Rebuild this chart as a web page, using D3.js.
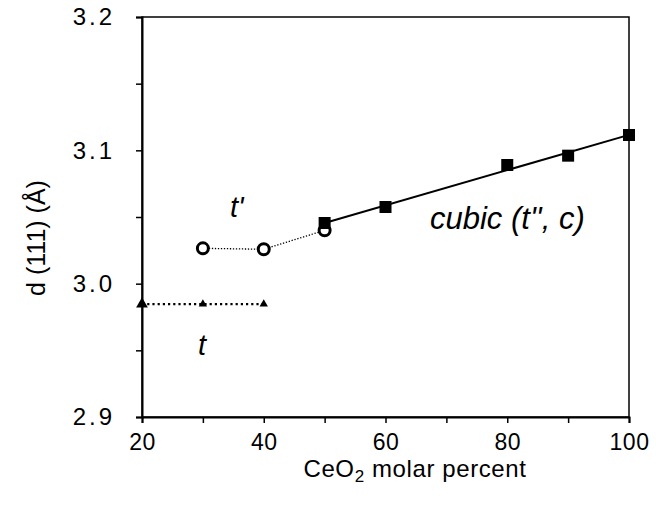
<!DOCTYPE html>
<html><head><meta charset="utf-8">
<script src="https://cdn.jsdelivr.net/npm/d3@7"></script>
<style>body{margin:0;background:#fff}svg{display:block}</style>
</head><body>
<script>
// Data
const cubicX = [50, 60, 80, 90, 100];
const cubicY = [3.0455, 3.0575, 3.089, 3.096, 3.1115];
const tPrimeX = [30, 40, 50];
const tPrimeY = [3.0265, 3.0258, 3.040];
const tX = [20, 30, 40];
const tY = [2.9847, 2.9847, 2.9847];
const xTicks = [20, 30, 40, 50, 60, 70, 80, 90, 100];
const xTickLabels = [20, 40, 60, 80, 100];
const yTicks = [2.9, 2.95, 3.0, 3.05, 3.1, 3.15, 3.2];
const yTickLabels = [2.9, 3.0, 3.1, 3.2];

const W = 656, H = 505;
const m = {l: 142, t: 17, r: 27, b: 88};
const svg = d3.select("body").append("svg").attr("width", W).attr("height", H)
  .style("font-family", "Liberation Sans, Arial, sans-serif");
const x = d3.scaleLinear().domain([20, 100]).range([m.l, W - m.r]);
const y = d3.scaleLinear().domain([2.9, 3.2]).range([H - m.b, m.t]);

// frame
svg.append("rect").attr("x", x(20)).attr("y", y(3.2))
  .attr("width", x(100) - x(20)).attr("height", y(2.9) - y(3.2))
  .attr("fill", "none").attr("stroke", "#000").attr("stroke-width", 1.5);

// axes
const xAxis = d3.axisBottom(x).tickValues(xTicks).tickSize(6)
  .tickFormat(d => xTickLabels.includes(d) ? d : "");
const gx = svg.append("g").attr("transform", `translate(0,${y(2.9)})`).call(xAxis);
gx.select(".domain").attr("stroke-width", 2);
gx.selectAll(".tick line").attr("stroke-width", 1.5);
gx.selectAll("text").attr("font-size", 23).attr("y", 17).attr("fill", "#000")
  .attr("letter-spacing", 0.5);

const yAxis = d3.axisLeft(y).tickValues(yTicks).tickSize(6)
  .tickFormat(d => yTickLabels.some(v => Math.abs(v - d) < 1e-9) ? d3.format(".1f")(d) : "");
const gy = svg.append("g").attr("transform", `translate(${x(20)},0)`).call(yAxis);
gy.select(".domain").attr("stroke-width", 2);
gy.selectAll(".tick line").attr("stroke-width", 1.5);
gy.selectAll("text").attr("font-size", 24).attr("x", -27).attr("fill", "#000")
  .attr("letter-spacing", 3);

// axis titles
const xt = svg.append("text").attr("x", 415).attr("y", 477).attr("text-anchor", "middle")
  .attr("font-size", 24).attr("letter-spacing", 0.6);
xt.append("tspan").text("CeO");
xt.append("tspan").text("2").attr("font-size", 17).attr("dy", 5);
xt.append("tspan").text(" molar percent").attr("dy", -5);

svg.append("text").attr("transform", "translate(45,238) rotate(-90)")
  .attr("text-anchor", "middle").attr("font-size", 25).text("d (111) (Å)");

// lines
// linear fit through cubic data
const mx = d3.mean(cubicX), my = d3.mean(cubicY);
const sxy = d3.sum(cubicX.map((v, i) => (v - mx) * (cubicY[i] - my)));
const sxx = d3.sum(cubicX.map(v => (v - mx) ** 2));
const slope = sxy / sxx, icpt = my - slope * mx;
const fitX = d3.extent(cubicX);
const line = d3.line().x(d => x(d[0])).y(d => y(d[1]));
svg.append("path").datum(fitX.map(v => [v, icpt + slope * v]))
  .attr("d", line).attr("fill", "none").attr("stroke", "#000").attr("stroke-width", 2);

svg.append("path").datum(tPrimeX.map((v, i) => [v, tPrimeY[i]]))
  .attr("d", line).attr("fill", "none").attr("stroke", "#000").attr("stroke-width", 1.3)
  .attr("stroke-dasharray", "1.3,1.7");

svg.append("path").datum(tX.map((v, i) => [v, tY[i]]))
  .attr("d", line).attr("fill", "none").attr("stroke", "#000").attr("stroke-width", 2.2)
  .attr("stroke-dasharray", "2.2,3");

// markers
svg.selectAll(".c").data(tPrimeX.map((v, i) => [v, tPrimeY[i]])).enter().append("circle")
  .attr("cx", d => x(d[0])).attr("cy", d => y(d[1])).attr("r", 5.5)
  .attr("fill", "#fff").attr("stroke", "#000").attr("stroke-width", 3);

svg.selectAll(".s").data(cubicX.map((v, i) => [v, cubicY[i]])).enter().append("rect")
  .attr("x", d => x(d[0]) - 6).attr("y", d => y(d[1]) - 6).attr("width", 12).attr("height", 12)
  .attr("fill", "#000");

const tri = d3.symbol().type(d3.symbolTriangle);
svg.selectAll(".t").data(tX.map((v, i) => [v, tY[i]])).enter().append("path")
  .attr("transform", d => `translate(${x(d[0])},${y(d[1])})`)
  .attr("d", (d, i) => tri.size(i === 0 ? 60 : 30)())
  .attr("fill", "#000");

// annotations
svg.append("text").attr("x", 230).attr("y", 217).attr("font-size", 29)
  .attr("font-style", "italic").text("t'");
svg.append("text").attr("x", 198).attr("y", 355).attr("font-size", 29)
  .attr("font-style", "italic").text("t");
svg.append("text").attr("x", 430).attr("y", 229).attr("font-size", 31)
  .attr("font-style", "italic").text("cubic (t'', c)");
</script>
</body></html>
